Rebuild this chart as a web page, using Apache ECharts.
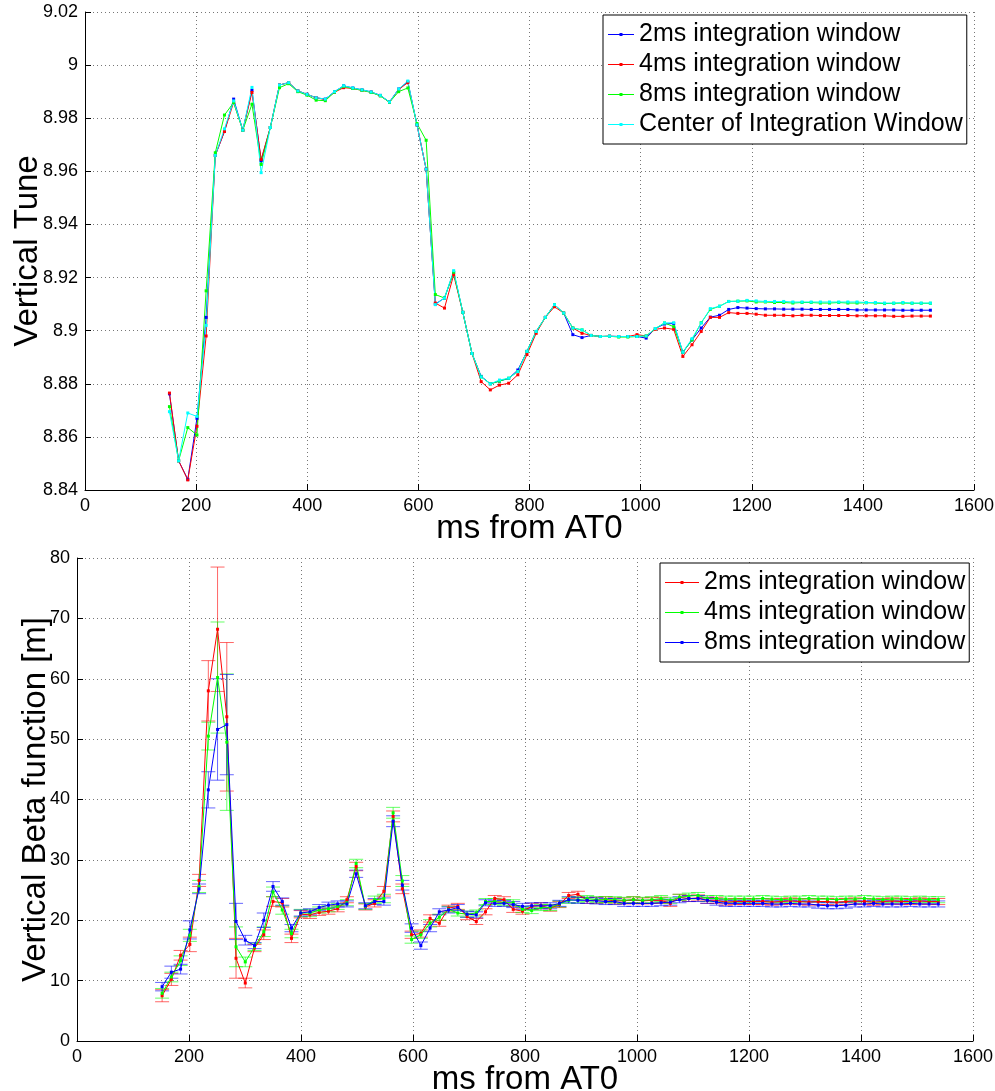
<!DOCTYPE html>
<html><head><meta charset="utf-8">
<script src="https://cdn.jsdelivr.net/npm/echarts@6/dist/echarts.min.js"></script>
<style>
html,body{margin:0;padding:0;background:#fff;}
#top{position:absolute;left:0;top:0;width:995px;height:545px;}
#bot{position:absolute;left:0;top:545px;width:995px;height:546px;}
</style>
</head><body>
<div id="top"></div><div id="bot"></div>
<script>
// ---------- Top panel: vertical tune ----------
const tuneTimes = [152,168.5,185,201.5,218,234.5,251,267.5,284,300.5,317,333.5,350,366.5,383,399.5,416,432.5,449,465.5,482,498.5,515,531.5,548,564.5,581,597.5,614,630.5,647,663.5,680,696.5,713,729.5,746,762.5,779,795.5,812,828.5,845,861.5,878,894.5,911,927.5,944,960.5,977,993.5,1010,1026.5,1043,1059.5,1076,1092.5,1109,1125.5,1142,1158.5,1175,1191.5,1208,1224.5,1241,1257.5,1274,1290.5,1307,1323.5,1340,1356.5,1373,1389.5,1406,1422.5,1439,1455.5,1472,1488.5,1505,1521.5];
const tune2ms = [8.8762,8.851,8.844,8.867,8.905,8.966,8.975,8.9872,8.9755,8.9905,8.964,8.9765,8.9925,8.9934,8.9903,8.989,8.9877,8.9872,8.990,8.9922,8.9914,8.9907,8.9899,8.9886,8.9861,8.991,8.9937,8.9775,8.9608,8.910,8.9123,8.922,8.9069,8.8914,8.8828,8.880,8.881,8.882,8.8852,8.8922,8.8997,8.905,8.9098,8.9066,8.8985,8.8974,8.8982,8.8978,8.8979,8.8978,8.8978,8.8978,8.8972,8.9008,8.9025,8.9027,8.8919,8.8965,8.901,8.9051,8.9058,8.908,8.9087,8.9085,8.9083,8.9082,8.9082,8.9081,8.9081,8.9081,8.908,8.908,8.908,8.908,8.908,8.9078,8.9078,8.9078,8.9078,8.9078,8.9077,8.9077,8.9077,8.9077];
const tune4ms = [8.8765,8.851,8.8438,8.864,8.898,8.966,8.975,8.986,8.9755,8.9897,8.9645,8.9765,8.9925,8.9934,8.9903,8.989,8.9877,8.987,8.9898,8.9915,8.9912,8.9905,8.9898,8.9885,8.986,8.9908,8.9934,8.9775,8.9608,8.9104,8.9085,8.921,8.9069,8.8914,8.8808,8.8777,8.8795,8.8802,8.8834,8.891,8.899,8.905,8.909,8.9066,8.901,8.899,8.8982,8.8978,8.8979,8.8978,8.8978,8.8985,8.898,8.9005,8.901,8.9005,8.8903,8.8947,8.8997,8.905,8.905,8.9068,8.9065,8.9065,8.9062,8.9058,8.9058,8.9058,8.9056,8.9058,8.9058,8.9057,8.9057,8.9057,8.9057,8.9056,8.9056,8.9056,8.9056,8.9054,8.9054,8.9055,8.9055,8.9055];
const tune8ms = [8.8714,8.851,8.8635,8.8607,8.915,8.967,8.9812,8.9859,8.9755,8.9853,8.9626,8.9765,8.9915,8.993,8.990,8.9887,8.9868,8.9866,8.9898,8.992,8.9912,8.9905,8.9897,8.9884,8.986,8.990,8.9914,8.978,8.9717,8.9136,8.9123,8.922,8.9069,8.8914,8.8826,8.880,8.881,8.8821,8.8846,8.8922,8.8997,8.905,8.9098,8.9066,8.901,8.9003,8.8982,8.8978,8.8979,8.8976,8.8976,8.8978,8.898,8.9008,8.9029,8.9015,8.8919,8.8965,8.903,8.908,8.9092,8.911,8.9111,8.9112,8.9108,8.9108,8.9106,8.9106,8.9104,8.9106,8.9106,8.9104,8.9104,8.9106,8.9104,8.9104,8.9105,8.9104,8.9102,8.9103,8.9104,8.9103,8.9103,8.9103];
const tuneCenter = [8.8695,8.851,8.869,8.8677,8.902,8.966,8.976,8.9865,8.9755,8.9916,8.9595,8.9765,8.9925,8.9934,8.9903,8.989,8.9877,8.9872,8.990,8.9922,8.9914,8.9907,8.9899,8.9886,8.9861,8.991,8.994,8.9775,8.9608,8.9098,8.9123,8.9226,8.9069,8.8914,8.8826,8.880,8.8814,8.8821,8.8846,8.8922,8.8997,8.905,8.9098,8.9066,8.901,8.9003,8.8982,8.8978,8.8979,8.8978,8.8978,8.8978,8.898,8.9008,8.9029,8.903,8.8919,8.897,8.9029,8.9083,8.9092,8.911,8.9111,8.9114,8.9112,8.911,8.911,8.911,8.9108,8.9108,8.9108,8.9108,8.9108,8.9108,8.9108,8.9108,8.9106,8.9106,8.9104,8.9104,8.9106,8.9104,8.9104,8.9104];
const tuneNames = ['2ms integration window','4ms integration window','8ms integration window','Center of Integration Window'];
const tuneColors = ['#0000ff','#ff0000','#00ff00','#00ffff'];

// ---------- Bottom panel: vertical beta function ----------
const betaTimes = [152,168.5,185,201.5,218,234.5,251,267.5,284,300.5,317,333.5,350,366.5,383,399.5,416,432.5,449,465.5,482,498.5,515,531.5,548,564.5,581,597.5,614,630.5,647,663.5,680,696.5,713,729.5,746,762.5,779,795.5,812,828.5,845,861.5,878,894.5,911,927.5,944,960.5,977,993.5,1010,1026.5,1043,1059.5,1076,1092.5,1109,1125.5,1142,1158.5,1175,1191.5,1208,1224.5,1241,1257.5,1274,1290.5,1307,1323.5,1340,1356.5,1373,1389.5,1406,1422.5,1439,1455.5,1472,1488.5,1505,1521.5,1538];
const beta2ms = [7.5,10.2,14.2,16.0,26.6,58.0,68.2,53.7,13.7,9.6,15.4,17.6,23.1,22.9,17.0,21.0,20.9,21.3,21.5,21.9,23.4,28.9,22.2,22.8,24.8,37.2,25.2,17.6,17.8,20.3,19.5,22.0,22.3,20.6,19.8,21.4,23.6,23.4,21.8,21.5,22.3,22.4,22.0,22.6,24.1,24.3,23.3,23.3,23.4,23.2,23.2,23.4,23.2,23.3,23.3,22.8,23.8,23.6,23.7,23.3,23.3,23.0,23.1,23.1,23.1,23.1,23.0,23.1,23.2,23.1,23.0,23.1,23.1,23.0,23.1,23.2,23.1,23.0,23.1,23.2,23.1,23.1,23.2,23.1,23.1];
const beta4ms = [7.9,10.6,13.3,17.5,25.6,50.5,60.2,49.5,15.6,13.1,15.6,18.1,24.7,21.7,17.8,21.2,21.2,21.7,21.9,22.3,22.9,29.4,22.3,23.4,23.6,37.8,26.5,16.8,17.6,19.5,20.5,21.8,21.2,21.0,21.2,23.1,23.1,22.9,22.9,21.8,21.6,22.1,22.1,22.7,23.3,23.4,23.6,23.4,23.4,23.4,23.3,23.4,23.3,23.4,23.6,23.3,23.8,24.0,24.1,23.6,23.6,23.5,23.5,23.5,23.5,23.6,23.5,23.4,23.5,23.5,23.6,23.5,23.5,23.4,23.5,23.5,23.6,23.5,23.4,23.5,23.5,23.4,23.5,23.4,23.4];
const beta8ms = [9.0,11.4,11.9,18.4,25.2,41.6,51.6,52.4,19.8,16.7,15.8,20.0,25.6,23.1,18.7,21.2,21.4,22.1,22.5,22.7,22.7,27.7,22.4,23.1,23.1,36.4,25.8,18.7,15.8,18.7,21.4,21.7,22.1,21.0,20.9,22.9,22.8,22.8,22.6,22.3,22.4,22.4,22.4,22.8,23.4,23.3,23.3,23.2,23.1,23.1,22.8,22.8,22.8,22.8,22.9,23.0,23.4,23.6,23.6,23.3,23.0,22.8,22.8,22.8,22.8,22.8,22.7,22.7,22.8,22.7,22.7,22.5,22.4,22.4,22.5,22.7,22.7,22.8,22.7,22.7,22.7,22.8,22.7,22.7,22.7];
const beta2msErr = [1.0,1.0,0.8,1.2,1.0,5.0,10.3,12.3,3.3,0.8,0.6,0.8,0.8,0.7,0.7,0.6,0.6,0.5,0.5,0.5,0.5,0.7,0.5,0.6,0.8,0.9,0.8,0.6,0.6,0.6,0.5,0.5,0.5,0.5,0.5,0.5,0.5,0.5,0.5,0.5,0.5,0.5,0.5,0.5,0.5,0.5,0.5,0.5,0.5,0.5,0.5,0.5,0.5,0.5,0.5,0.5,0.5,0.5,0.5,0.5,0.5,0.5,0.5,0.5,0.5,0.5,0.5,0.5,0.5,0.5,0.5,0.5,0.5,0.5,0.5,0.5,0.5,0.5,0.5,0.5,0.5,0.5,0.5,0.5,0.5];
const beta4msErr = [0.8,0.8,0.8,1.0,1.0,2.3,9.2,11.3,3.3,0.8,0.6,0.8,0.8,0.7,0.7,0.6,0.6,0.5,0.5,0.5,0.5,0.7,0.5,0.6,0.7,0.9,0.9,0.6,0.6,0.6,0.5,0.5,0.5,0.5,0.5,0.5,0.5,0.5,0.5,0.5,0.5,0.5,0.5,0.5,0.5,0.5,0.5,0.5,0.5,0.5,0.5,0.5,0.5,0.5,0.5,0.5,0.5,0.5,0.5,0.5,0.5,0.5,0.5,0.5,0.5,0.5,0.5,0.5,0.5,0.5,0.5,0.5,0.5,0.5,0.5,0.5,0.5,0.5,0.5,0.5,0.5,0.5,0.5,0.5,0.5];
const beta8msErr = [0.7,1.0,0.8,1.5,0.8,3.0,8.4,8.3,3.0,0.8,0.5,1.2,0.8,0.6,0.6,0.5,0.5,0.5,0.5,0.5,0.5,0.6,0.5,0.5,0.6,0.9,0.8,0.7,0.6,0.6,0.5,0.5,0.5,0.5,0.5,0.5,0.5,0.5,0.5,0.5,0.5,0.5,0.5,0.5,0.5,0.5,0.5,0.5,0.5,0.5,0.5,0.5,0.5,0.5,0.5,0.5,0.5,0.5,0.5,0.5,0.5,0.5,0.5,0.5,0.5,0.5,0.5,0.5,0.5,0.5,0.5,0.5,0.5,0.5,0.5,0.5,0.5,0.5,0.5,0.5,0.5,0.5,0.5,0.5,0.5];
const betaNames = ['2ms integration window','4ms integration window','8ms integration window'];
const betaColors = ['#ff0000','#00ff00','#0000ff'];

const FONT = "'Liberation Sans', Arial, Helvetica, sans-serif";

function xAxisCfg(nameGap){
  return {
    type:'value', min:0, max:1600, interval:200,
    name:'ms from AT0', nameLocation:'middle', nameGap:nameGap, nameMoveOverlap:false,
    nameTextStyle:{fontSize:33, color:'#000', fontFamily:FONT},
    axisLine:{show:true, onZero:false, lineStyle:{color:'#000', width:1}},
    axisTick:{show:true, inside:true, length:6, lineStyle:{color:'#000'}},
    axisLabel:{color:'#000', fontSize:18, fontFamily:FONT, margin:7, formatter: v => String(v)},
    splitLine:{show:true, lineStyle:{type:[1,3], color:'#777', width:1}}
  };
}
function yAxisCfg(name, min, max, interval, nameGap, fmt){
  return {
    type:'value', min:min, max:max, interval:interval,
    name:name, nameLocation:'middle', nameGap:nameGap, nameMoveOverlap:false,
    nameTextStyle:{fontSize:33, color:'#000', fontFamily:FONT},
    axisLine:{show:true, onZero:false, lineStyle:{color:'#000', width:1}},
    axisTick:{show:true, inside:true, length:6, lineStyle:{color:'#000'}},
    axisLabel:{color:'#000', fontSize:18, fontFamily:FONT, margin:7, formatter:fmt},
    splitLine:{show:true, lineStyle:{type:[1,3], color:'#777', width:1}}
  };
}
function lineSeries(name, color, times, vals){
  return {
    name:name, type:'line', color:color,
    data: times.map((t,i)=>[t, vals[i]]),
    symbol:'rect', symbolSize:3, showSymbol:true,
    lineStyle:{width:1, color:color}, itemStyle:{color:color},
    emphasis:{disabled:true}, z:3
  };
}
function errSeries(color, times, vals, errs){
  return {
    type:'custom', silent:true, z:2,
    data: times.map((t,i)=>[t, vals[i], errs[i]]),
    encode:{x:0, y:1},
    renderItem:function(params, api){
      const x = api.value(0), y = api.value(1), e = api.value(2);
      const p1 = api.coord([x, y+e]), p2 = api.coord([x, y-e]);
      const hw = 7;
      const st = {stroke:color, lineWidth:1, opacity:0.6};
      return {type:'group', children:[
        {type:'line', shape:{x1:p1[0], y1:p1[1], x2:p2[0], y2:p2[1]}, style:st},
        {type:'line', shape:{x1:p1[0]-hw, y1:p1[1], x2:p1[0]+hw, y2:p1[1]}, style:st},
        {type:'line', shape:{x1:p2[0]-hw, y1:p2[1], x2:p2[0]+hw, y2:p2[1]}, style:st}
      ]};
    }
  };
}
// legend icon: thin line with a small square dot in the middle
function legendIcon(w){
  const c = w/2;
  return 'path://M0 4.5 H' + w + ' V5.5 H0 Z M' + (c-1.5) + ' 3.5 H' + (c+1.5) + ' V6.5 H' + (c-1.5) + ' Z';
}
function legendCfg(left, top, names, iconW){
  return {
    show:true, orient:'vertical', left:left, top:top,
    data:names.map(n => ({name:n, icon:legendIcon(iconW)})), selectedMode:false,
    backgroundColor:'#fff', borderColor:'#000', borderWidth:1,
    padding:[7,4,7,5], itemGap:5, itemWidth:iconW, itemHeight:10,
    textStyle:{fontSize:25, lineHeight:25, color:'#000', fontFamily:FONT}
  };
}

const topChart = echarts.init(document.getElementById('top'), null, {renderer:'canvas'});
topChart.setOption({
  animation:false,
  textStyle:{fontFamily:FONT},
  grid:{left:85, top:12, width:889, height:478, containLabel:false, outerBoundsMode:'none'},
  xAxis: xAxisCfg(22),
  yAxis: yAxisCfg('Vertical Tune', 8.84, 9.02, 0.02, 41, v => String(+v.toFixed(2))),
  legend: legendCfg(603, 15, tuneNames, 26),
  series: [
    lineSeries(tuneNames[0], tuneColors[0], tuneTimes, tune2ms),
    lineSeries(tuneNames[1], tuneColors[1], tuneTimes, tune4ms),
    lineSeries(tuneNames[2], tuneColors[2], tuneTimes, tune8ms),
    lineSeries(tuneNames[3], tuneColors[3], tuneTimes, tuneCenter)
  ]
});

const botChart = echarts.init(document.getElementById('bot'), null, {renderer:'canvas'});
botChart.setOption({
  animation:false,
  textStyle:{fontFamily:FONT},
  grid:{left:77, top:13, width:896, height:483, containLabel:false, outerBoundsMode:'none'},
  xAxis: xAxisCfg(22),
  yAxis: yAxisCfg('Vertical Beta function [m]', 0, 80, 10, 25, v => String(v)),
  legend: legendCfg(660, 18, betaNames, 34),
  series: [
    errSeries(betaColors[0], betaTimes, beta2ms, beta2msErr),
    errSeries(betaColors[1], betaTimes, beta4ms, beta4msErr),
    errSeries(betaColors[2], betaTimes, beta8ms, beta8msErr),
    lineSeries(betaNames[0], betaColors[0], betaTimes, beta2ms),
    lineSeries(betaNames[1], betaColors[1], betaTimes, beta4ms),
    lineSeries(betaNames[2], betaColors[2], betaTimes, beta8ms)
  ]
});
</script>
</body></html>
